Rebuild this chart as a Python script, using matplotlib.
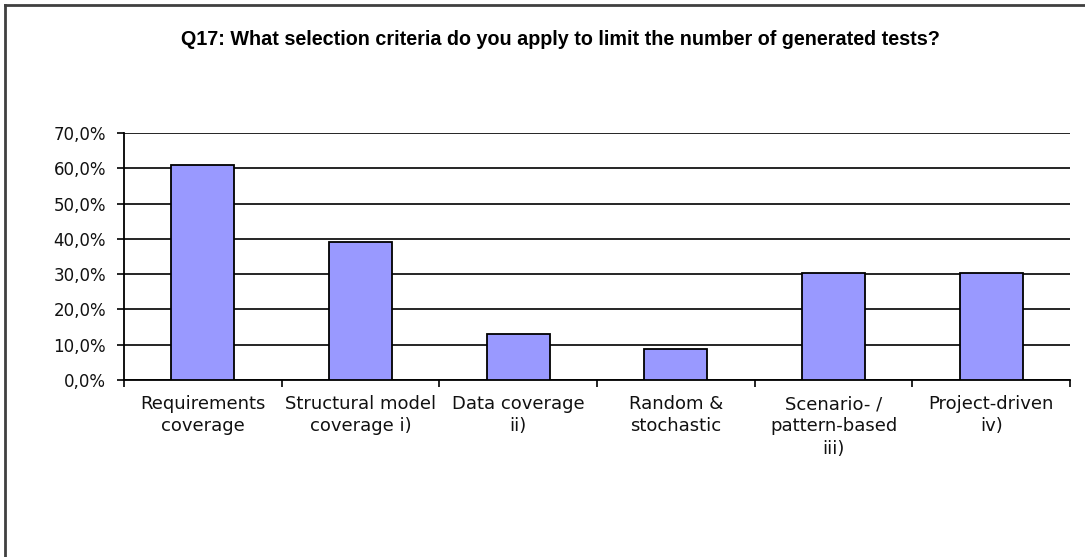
import matplotlib
matplotlib.use('Agg')
import matplotlib.pyplot as plt
from matplotlib.lines import Line2D
from matplotlib.ticker import FuncFormatter, FixedLocator
import numpy as np

plt.rcParams['font.family'] = ['DejaVu Sans']

title = 'Q17: What selection criteria do you apply to limit the number of generated tests?'
categories = ['Requirements\ncoverage', 'Structural model\ncoverage i)', 'Data coverage\nii)',
              'Random &\nstochastic', 'Scenario- /\npattern-based\niii)', 'Project-driven\niv)']
shares = [60.9, 39.1, 13.0, 8.7, 30.4, 30.4]

fig = plt.figure(figsize=(10.85, 5.57), dpi=100)
ax = fig.add_axes([124 / 1085, 1 - 380 / 557, (1070 - 124) / 1085, (380 - 133) / 557])

x = np.arange(len(categories))
ax.bar(x, shares, width=0.4, color='#9999FF', edgecolor='black', linewidth=1.3, zorder=3)

ax.set_xlim(-0.5, len(categories) - 0.5)
ax.set_ylim(0, 70)
ax.set_yticks(np.arange(0, 71, 10))
ax.yaxis.set_major_formatter(FuncFormatter(lambda v, p: f'{v:.1f}%'.replace('.', ',')))
ax.grid(axis='y', color='black', linewidth=1.2, zorder=0)
ax.set_axisbelow(True)

# category boundaries carry the ticks, labels sit in the middle
ax.xaxis.set_major_locator(FixedLocator(np.arange(len(categories) + 1) - 0.5))
ax.xaxis.set_major_formatter(FuncFormatter(lambda v, p: ''))
ax.xaxis.set_minor_locator(FixedLocator(x))
ax.set_xticklabels(categories, minor=True, fontsize=13, linespacing=1.3, color='#111111')
ax.tick_params(axis='x', which='minor', length=0, pad=11)
ax.tick_params(axis='x', which='major', length=5, width=1.2, direction='out')
ax.tick_params(axis='y', length=5, width=1.2, labelsize=12, pad=8, labelcolor='#111111')

for s in ['top', 'right']:
    ax.spines[s].set_visible(False)
for s in ['left', 'bottom']:
    ax.spines[s].set_linewidth(1.3)

fig.text(560 / 1085, 1 - 45 / 557, title, ha='center', va='baseline',
         fontsize=14.2, fontweight='bold', family=['Liberation Sans'])

# chart frame: left and top edge only
fig.add_artist(Line2D([5 / 1085, 5 / 1085], [0, 1 - 5 / 557], transform=fig.transFigure,
                      color='#404040', linewidth=2))
fig.add_artist(Line2D([5 / 1085, 1], [1 - 5 / 557, 1 - 5 / 557], transform=fig.transFigure,
                      color='#404040', linewidth=2))

fig.savefig('out.png', dpi=100, facecolor='white')
